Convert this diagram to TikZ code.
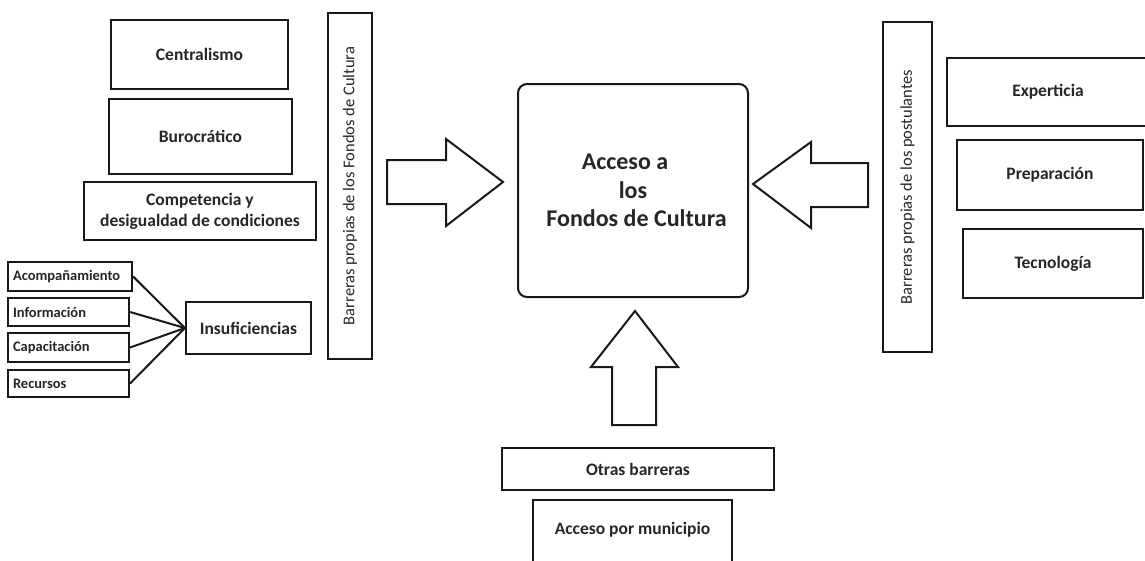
\documentclass[tikz,border=0pt]{standalone}
\usepackage{fontspec}
\setmainfont{Carlito}
\begin{document}
\begin{tikzpicture}[x=1pt,y=-1pt,
  box/.style={draw=black!90, line width=2.2pt, rectangle, inner sep=0pt, align=center,
    font=\bfseries\fontsize{17.5}{21}\selectfont, text=black!85},
  smallbox/.style={draw=black!90, line width=2.2pt, rectangle, inner sep=0pt, align=left,
    font=\bfseries\fontsize{14.5}{16}\selectfont, text=black!85},
  barbox/.style={draw=black!90, line width=2.2pt, rectangle, inner sep=0pt, rotate=90,
    font=\fontsize{16.5}{20}\selectfont, text=black!85},
  blockarrow/.style={draw=black!90, line width=2pt, line join=miter, fill=white},
  link/.style={draw=black!90, line width=2pt}
]
\useasboundingbox (0,0) rectangle (1145,560);
\fill[white] (0,0) rectangle (1145,560);

% left column
\node[box, minimum width=177, minimum height=69] (cen) at (199.5,54.5) {Centralismo};
\node[box, minimum width=183, minimum height=75] (bur) at (200.5,136.5) {Burocrático};
\node[box, minimum width=232, minimum height=58] (com) at (200,211) {Competencia y\\desigualdad de condiciones};

\node[barbox, minimum width=346, minimum height=44] (barL) at (350,186) {Barreras propias de los Fondos de Cultura};

\node[smallbox, minimum width=124, minimum height=29, text width=114] (aco) at (70,276.5) {Acompañamiento};
\node[smallbox, minimum width=121, minimum height=28, text width=111] (inf) at (68.5,312) {Información};
\node[smallbox, minimum width=121, minimum height=29, text width=111] (cap) at (68.5,347.5) {Capacitación};
\node[smallbox, minimum width=121, minimum height=27, text width=111] (rec) at (68.5,383.5) {Recursos};
\node[box, minimum width=125, minimum height=52] (ins) at (248.5,328) {Insuficiencias};

\draw[link] (aco.east) -- (ins.west);
\draw[link] (inf.east) -- (ins.west);
\draw[link] (cap.east) -- (ins.west);
\draw[link] (rec.east) -- (ins.west);

% centre
\node[draw=black!90, line width=2pt, rounded corners=9pt, minimum width=230, minimum height=213,
  inner sep=0pt, align=center, font=\bfseries\fontsize{24}{28.5}\selectfont, text=black!85]
  (main) at (633,190.5) {Acceso a\hspace*{16pt}\\los\hspace*{6pt}\\\hspace*{7pt}Fondos de Cultura};

\draw[blockarrow] (387,160) -- (446,160) -- (446,139) -- (503,182) -- (446,226) -- (446,204) -- (387,204) -- cycle;
\draw[blockarrow] (868,163) -- (811,163) -- (811,142) -- (753,184) -- (811,228) -- (811,207) -- (868,207) -- cycle;
\draw[blockarrow] (612,425) -- (612,367) -- (591,367) -- (635,311) -- (678,367) -- (656,367) -- (656,425) -- cycle;

% right column
\node[barbox, minimum width=330, minimum height=49] (barR) at (907.5,187) {Barreras propias de los postulantes};
\node[box, minimum width=202, minimum height=68] (exp) at (1048,92) {Experticia};
\node[box, minimum width=186, minimum height=70] (pre) at (1050,175) {Preparación};
\node[box, minimum width=180, minimum height=69] (tec) at (1053,263.5) {Tecnología};

% bottom
\node[box, minimum width=272, minimum height=42] (otr) at (638,469) {Otras barreras};
\node[box, minimum width=199, text height=34pt, text depth=42pt, anchor=north] (mun) at (632.5,499) {Acceso por municipio};
\end{tikzpicture}
\end{document}
